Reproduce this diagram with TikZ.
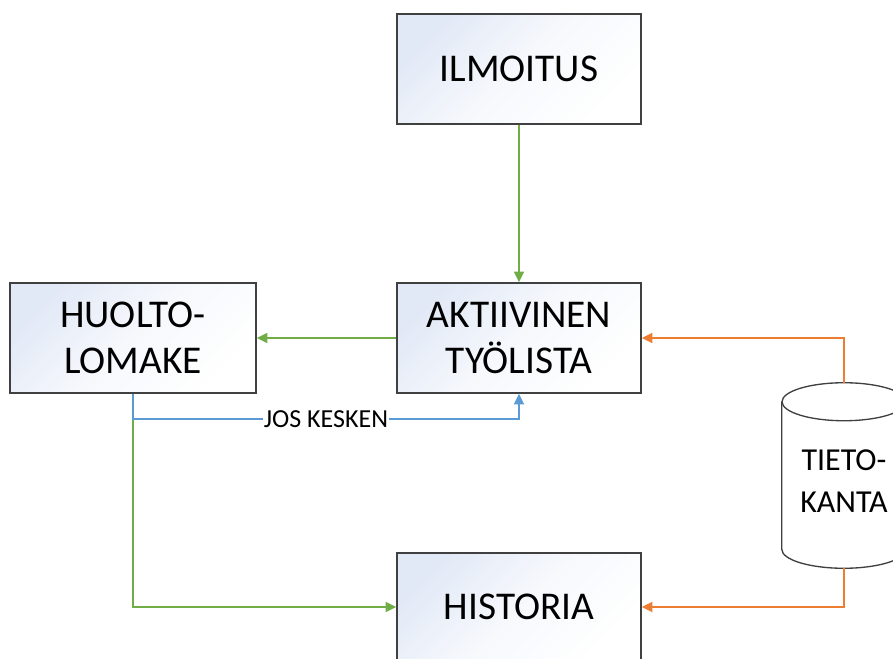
\documentclass[tikz,border=0pt]{standalone}
\usepackage{fontspec}
\setmainfont{Carlito}
\usetikzlibrary{arrows.meta}
\definecolor{vihrea}{RGB}{112,173,71}
\definecolor{sininen}{RGB}{91,155,213}
\definecolor{oranssi}{RGB}{237,125,49}
\definecolor{reuna}{RGB}{64,64,64}
\definecolor{varjo}{RGB}{226,233,246}
\tikzstyle{laatikko} = [rectangle, minimum width=183pt, minimum height=82.5pt, align=center, draw=reuna, line width=1pt, top color=varjo, bottom color=white, middle color=white!70!varjo, shading angle=45, font=\fontsize{29.5}{35}\selectfont]
\tikzstyle{kanta} = [rectangle, minimum width=93pt, minimum height=138.75pt, align=center, font=\fontsize{24}{31.5}\selectfont]
\tikzstyle{arrow} = [line width=1.4pt, -{Triangle[length=8pt,width=7.5pt]}]

\begin{document}
\begin{tikzpicture}[x=0.75pt, y=-0.75pt]
	\useasboundingbox (0,0) rectangle (893,658);
	\node (il) [laatikko] at (519,69) {ILMOITUS};
	\node (ak) [laatikko] at (519,338) {AKTIIVINEN\\TYÖLISTA};
	\node (hl) [laatikko, minimum width=184.5pt] at (133,338) {HUOLTO-\\LOMAKE};
	\node (hi) [laatikko, minimum height=81pt] at (519,607) {HISTORIA};
	\node (tk) [kanta] at (844,475.5) {};
	% tietokanta
	\draw [reuna, line width=1pt, fill=white] ([yshift=-14.25pt]tk.north west) -- ([yshift=14.25pt]tk.south west) arc[start angle=180, end angle=360, x radius=46.5pt, y radius=14.25pt] -- ([yshift=-14.25pt]tk.north east);
	\draw [reuna, line width=1pt, fill=white] ([yshift=-14.25pt]tk.north) ellipse [x radius=46.5pt, y radius=14.25pt];
	\node [kanta] at (844,481) {TIETO-\\KANTA};
	\draw [arrow, vihrea] (il) -- (ak);
	\draw [arrow, vihrea] (ak) -- (hl);
	\draw [arrow, vihrea] (hl.south) |- (hi.west);
	\draw [arrow, sininen] (hl.south) -- ++(0,25) -| node[pos=0.25, fill=white, inner sep=1pt, text=black, font=\fontsize{19.5}{22}\selectfont] {JOS KESKEN} (ak.south);
	\draw [arrow, oranssi] (tk.north) |- (ak.east);
	\draw [arrow, oranssi] (tk.south) |- (hi.east);
\end{tikzpicture}
\end{document}
